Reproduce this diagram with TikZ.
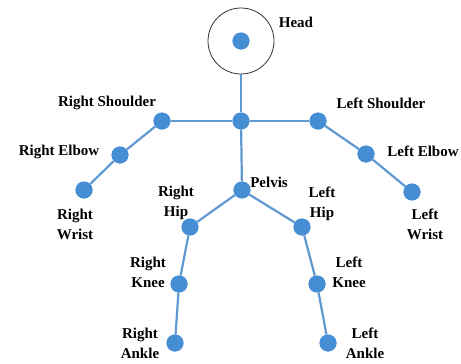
\documentclass[tikz,border=0pt]{standalone}
\usepackage{fontspec}
\setmainfont{Liberation Serif}
\definecolor{jointc}{RGB}{70,142,212}
\definecolor{bonec}{RGB}{96,152,208}
\begin{document}
\begin{tikzpicture}[x=1pt,y=-1pt,
  joint/.style={circle,fill=jointc,minimum size=17pt,inner sep=0pt},
  bone/.style={draw=bonec,line width=2.2pt},
  lbl/.style={align=center,inner sep=0pt,font=\fontsize{15}{20}\selectfont\bfseries}]
\useasboundingbox (0,0) rectangle (461,364);
% head
\node[circle,draw=black!80,line width=0.8pt,minimum size=66pt,inner sep=0pt] (headc) at (241,41) {};
\node[joint] (head) at (241,41) {};
% joints
\node[joint] (neck) at (241,121) {};
\node[joint] (rs) at (162,121) {};
\node[joint] (ls) at (318,121) {};
\node[joint] (re) at (120,155) {};
\node[joint] (le) at (366,154) {};
\node[joint] (rw) at (84,190) {};
\node[joint] (lw) at (412,192) {};
\node[joint] (pel) at (242,190) {};
\node[joint] (rh) at (190,227) {};
\node[joint] (lh) at (302,227) {};
\node[joint] (rk) at (179,284) {};
\node[joint] (lk) at (317,284) {};
\node[joint] (ra) at (175,343) {};
\node[joint] (la) at (328,343) {};
% bones
\draw[bone] (headc.south) -- (neck);
\draw[bone] (neck) -- (rs);
\draw[bone] (neck) -- (ls);
\draw[bone] (rs) -- (re);
\draw[bone] (re) -- (rw);
\draw[bone] (ls) -- (le);
\draw[bone] (le) -- (lw);
\draw[bone] (neck) -- (pel);
\draw[bone] (pel) -- (rh);
\draw[bone] (pel) -- (lh);
\draw[bone] (rh) -- (rk);
\draw[bone] (rk) -- (ra);
\draw[bone] (lh) -- (lk);
\draw[bone] (lk) -- (la);
% redraw joints on top
\foreach \j in {head,neck,rs,ls,re,le,rw,lw,pel,rh,lh,rk,lk,ra,la}
  \fill[jointc] (\j) circle (8.5pt);
% labels
\node[lbl] (lhead) at (296,22) {Head};
\node[lbl] (lrs) at (107,103) {Right Shoulder};
\node[lbl] (lls) at (381,103) {Left Shoulder};
\node[lbl] (lre) at (59,152) {Right Elbow};
\node[lbl] (lle) at (423,151) {Left Elbow};
\node[lbl] (lrw) at (75,224) {Right\\Wrist};
\node[lbl] (llw) at (425,224) {Left\\Wrist};
\node[lbl] (lpel) at (269,182) {Pelvis};
\node[lbl] (lrh) at (176,203) {Right\\Hip};
\node[lbl] (llh) at (322,204) {Left\\Hip};
\node[lbl] (lrk) at (148,272) {Right\\Knee};
\node[lbl] (llk) at (349,272) {Left\\Knee};
\node[lbl] (lra) at (140,343) {Right\\Ankle};
\node[lbl] (lla) at (365,343) {Left\\Ankle};
\end{tikzpicture}
\end{document}
